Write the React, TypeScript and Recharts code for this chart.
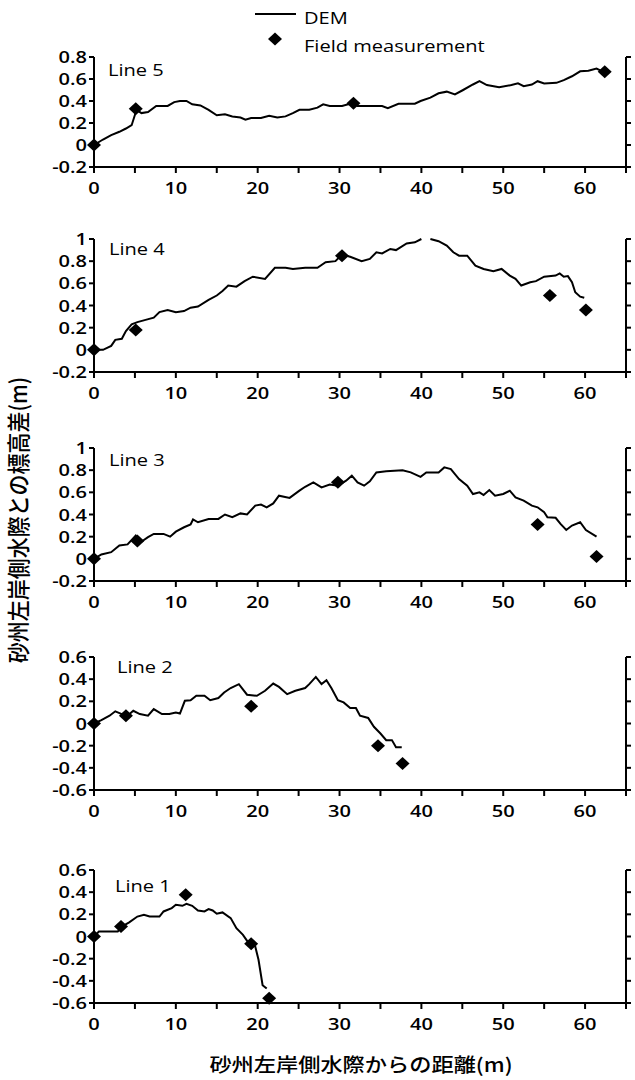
import React from "react"
import { ComposedChart, Line, Scatter, XAxis, YAxis } from "recharts"

// axis ticks
const xTicks = [0, 5, 10, 15, 20, 25, 30, 35, 40, 45, 50, 55, 60, 65]
const yTicksShort = [-0.2, 0, 0.2, 0.4, 0.6, 0.8]
const yTicksTall = [-0.2, 0, 0.2, 0.4, 0.6, 0.8, 1]
const yTicksNeg = [-0.6, -0.4, -0.2, 0, 0.2, 0.4, 0.6]

// Line 5
const dem5Dist = [0, 1.1, 2.1, 3.1, 3.9, 4.6, 5.2, 5.8, 6.6, 7.6, 9.0, 9.8, 10.5, 11.3, 12.0, 13.0, 14.0, 15.0, 16.0, 16.9, 17.9, 18.5, 19.2, 20.4, 21.4, 22.4, 23.4, 24.3, 25.1, 26.3, 27.3, 28.0, 28.8, 30.3, 31.5, 32.2, 35.2, 35.9, 37.2, 39.2, 39.9, 41.1, 42.1, 43.1, 44.1, 45.1, 46.3, 47.1, 48.0, 49.5, 51.0, 51.8, 52.5, 53.5, 54.2, 55.0, 56.5, 57.4, 58.4, 59.4, 60.4, 61.4, 62.1]
const dem5Elev = [0, 0.05, 0.09, 0.12, 0.15, 0.18, 0.32, 0.29, 0.3, 0.355, 0.355, 0.39, 0.4, 0.4, 0.37, 0.36, 0.32, 0.27, 0.28, 0.26, 0.25, 0.23, 0.245, 0.245, 0.265, 0.25, 0.26, 0.29, 0.32, 0.32, 0.34, 0.37, 0.355, 0.355, 0.38, 0.355, 0.355, 0.335, 0.375, 0.375, 0.4, 0.43, 0.47, 0.485, 0.46, 0.5, 0.55, 0.58, 0.545, 0.525, 0.545, 0.56, 0.535, 0.55, 0.58, 0.56, 0.565, 0.59, 0.625, 0.67, 0.675, 0.695, 0.67]
const field5Dist = [0, 5.1, 31.7, 62.4]
const field5Elev = [0, 0.33, 0.38, 0.665]

// Line 4 (profile leaves the plot above 1 m near 40 m)
const dem4Dist = [0, 1.1, 2.1, 2.6, 3.4, 3.9, 4.6, 5.3, 6.3, 7.3, 8.0, 9.0, 10.0, 11.0, 11.8, 12.7, 14.0, 15.0, 15.7, 16.4, 17.4, 18.4, 19.4, 20.9, 22.1, 23.4, 24.3, 25.8, 27.3, 28.3, 29.5, 30.3, 31.3, 32.7, 33.7, 34.5, 35.2, 36.2, 36.9, 38.2, 39.2, 40.0, 40.6, 41.1, 42.1, 43.1, 43.9, 44.6, 45.6, 46.6, 47.6, 48.8, 49.8, 50.8, 51.5, 52.2, 53.3, 54.0, 55.0, 56.4, 56.9, 57.4, 57.9, 58.4, 58.8, 59.4, 59.9]
const dem4Elev = [0, 0, 0.036, 0.09, 0.1, 0.17, 0.23, 0.25, 0.27, 0.29, 0.34, 0.36, 0.34, 0.35, 0.38, 0.39, 0.45, 0.49, 0.53, 0.58, 0.57, 0.62, 0.66, 0.64, 0.74, 0.74, 0.73, 0.74, 0.74, 0.79, 0.8, 0.86, 0.84, 0.8, 0.82, 0.88, 0.87, 0.91, 0.9, 0.96, 0.97, 1.0, null, 1.0, 0.98, 0.94, 0.88, 0.85, 0.85, 0.76, 0.73, 0.71, 0.73, 0.67, 0.64, 0.58, 0.61, 0.62, 0.66, 0.67, 0.69, 0.66, 0.665, 0.61, 0.52, 0.48, 0.47]
const field4Dist = [0, 5.1, 30.3, 55.7, 60.1]
const field4Elev = [0, 0.18, 0.85, 0.49, 0.36]

// Line 3
const dem3Dist = [0, 0.9, 2.1, 3.1, 4.1, 5.1, 5.7, 6.6, 7.3, 8.5, 9.3, 10.0, 11.0, 11.8, 12.1, 12.7, 14.0, 15.2, 16.0, 16.9, 17.9, 18.7, 19.7, 20.4, 21.1, 21.9, 22.6, 23.9, 25.1, 25.8, 26.8, 27.8, 28.8, 29.8, 30.8, 31.5, 32.2, 33.0, 33.7, 34.5, 35.7, 36.7, 37.7, 38.7, 39.9, 40.6, 42.1, 42.8, 43.6, 44.6, 45.6, 46.3, 47.1, 47.6, 48.3, 49.0, 50.0, 50.8, 51.5, 52.5, 53.5, 54.2, 55.0, 55.4, 56.4, 57.0, 57.7, 58.4, 59.4, 60.1, 61.4]
const dem3Elev = [0, 0.04, 0.06, 0.12, 0.13, 0.21, 0.15, 0.195, 0.225, 0.225, 0.2, 0.245, 0.285, 0.31, 0.355, 0.33, 0.36, 0.36, 0.4, 0.375, 0.41, 0.4, 0.48, 0.49, 0.465, 0.5, 0.57, 0.55, 0.615, 0.65, 0.69, 0.645, 0.67, 0.66, 0.705, 0.75, 0.69, 0.66, 0.7, 0.78, 0.79, 0.795, 0.8, 0.78, 0.74, 0.78, 0.78, 0.825, 0.81, 0.72, 0.66, 0.585, 0.6, 0.575, 0.62, 0.57, 0.585, 0.615, 0.555, 0.525, 0.48, 0.465, 0.42, 0.375, 0.37, 0.315, 0.26, 0.3, 0.33, 0.26, 0.2]
const field3Dist = [0, 5.3, 29.8, 54.2, 61.4]
const field3Elev = [0, 0.16, 0.69, 0.31, 0.02]

// Line 2
const dem2Dist = [0, 0.9, 1.9, 2.6, 3.4, 4.1, 4.8, 5.6, 6.6, 7.3, 8.3, 9.2, 10.0, 10.5, 11.1, 11.8, 12.5, 13.5, 14.2, 15.2, 15.9, 16.7, 17.7, 18.7, 19.9, 20.9, 21.9, 22.6, 23.6, 24.6, 25.8, 26.3, 27.1, 27.8, 28.4, 29.0, 29.8, 30.5, 31.3, 32.0, 32.5, 33.5, 34.2, 35.0, 35.7, 36.4, 36.9, 37.6]
const dem2Elev = [0, 0.03, 0.07, 0.11, 0.085, 0.07, 0.115, 0.085, 0.07, 0.13, 0.085, 0.085, 0.1, 0.09, 0.205, 0.21, 0.25, 0.25, 0.21, 0.23, 0.28, 0.32, 0.355, 0.26, 0.25, 0.295, 0.36, 0.33, 0.265, 0.295, 0.32, 0.355, 0.42, 0.355, 0.39, 0.32, 0.21, 0.19, 0.14, 0.14, 0.07, 0.05, -0.03, -0.09, -0.15, -0.15, -0.215, -0.215]
const field2Dist = [0, 3.9, 19.2, 34.7, 37.7]
const field2Elev = [0, 0.07, 0.155, -0.2, -0.36]

// Line 1
const dem1Dist = [0, 0.6, 2.9, 3.4, 4.3, 5.3, 6.1, 6.8, 8.0, 8.5, 9.5, 10.0, 10.8, 11.3, 12.0, 12.7, 13.5, 14.0, 14.5, 15.0, 15.7, 16.7, 17.4, 18.2, 18.9, 19.7, 20.1, 20.6, 21.1]
const dem1Elev = [0, 0.045, 0.045, 0.09, 0.127, 0.18, 0.196, 0.18, 0.18, 0.226, 0.256, 0.286, 0.277, 0.295, 0.277, 0.235, 0.226, 0.247, 0.235, 0.205, 0.217, 0.166, 0.075, 0.015, -0.06, -0.09, -0.21, -0.44, -0.47]
const field1Dist = [0, 3.3, 11.2, 19.2, 21.4]
const field1Elev = [0, 0.09, 0.377, -0.066, -0.557]

const zip = (xs: number[], ys: (number | null)[]) => xs.map((x, i) => ({ x, y: ys[i] }))

const FONT = "'Open Sans', sans-serif"
const JP = "'Noto Sans CJK JP', sans-serif"
const SX = 1.18 // the figure is stretched sideways
const FS = 17
const FW = 600

function XTick(props: any) {
  const { x, y, payload } = props
  const v = payload.value
  if (v % 10 !== 0) return <g />
  return (
    <text transform={`translate(${x},${y + 19}) scale(${SX},1)`} textAnchor="middle" fontFamily={FONT} fontSize={FS} fontWeight={FW} fill="#000">
      {v}
    </text>
  )
}

function YTick(props: any) {
  const { x, y, payload } = props
  const v = Math.round(payload.value * 10) / 10
  return (
    <text transform={`translate(${x},${y + 6}) scale(${SX},1)`} textAnchor="end" fontFamily={FONT} fontSize={FS} fontWeight={FW} fill="#000">
      {String(v)}
    </text>
  )
}

const NoTick = () => <g />

function Diamond(props: any) {
  const { cx, cy } = props
  return <polygon points={`${cx},${cy - 6.5} ${cx + 7},${cy} ${cx},${cy + 6.5} ${cx - 7},${cy}`} fill="#000" />
}

type PanelProps = {
  top: number
  plotH: number
  dem: { x: number; y: number | null }[]
  field: { x: number; y: number | null }[]
  yTicks: number[]
}

function Panel({ top, plotH, dem, field, yTicks }: PanelProps) {
  const mt = 18
  const dom: [number, number] = [yTicks[0], yTicks[yTicks.length - 1]]
  const ax = { stroke: "#000", strokeWidth: 2 }
  return (
    <div style={{ position: "absolute", left: 0, top: top - mt }}>
      <ComposedChart width={635} height={mt + plotH + 40} margin={{ top: mt, right: 0, bottom: 0, left: 0 }}>
        <XAxis type="number" dataKey="x" domain={[0, 65]} ticks={xTicks} interval={0} height={40} tickSize={6} stroke="#000" axisLine={ax} tickLine={ax} tick={<XTick />} />
        <YAxis yAxisId="l" type="number" dataKey="y" domain={dom} ticks={yTicks} interval={0} width={94} tickSize={5} stroke="#000" axisLine={ax} tickLine={ax} tick={<YTick />} />
        <YAxis yAxisId="r" orientation="right" type="number" dataKey="y" domain={dom} ticks={yTicks} interval={0} width={9} tickSize={5} stroke="#000" axisLine={ax} tickLine={ax} tick={<NoTick />} />
        <Line yAxisId="r" data={dem} dataKey="y" type="linear" stroke="#000" strokeWidth={2} dot={false} isAnimationActive={false} />
        <Scatter yAxisId="l" data={field} dataKey="y" shape={Diamond} isAnimationActive={false} />
      </ComposedChart>
    </div>
  )
}

function Txt({ x, y, children, size = FS, anchor = "start", family = FONT, sx = SX, weight = FW }: any) {
  return (
    <text transform={`translate(${x},${y}) scale(${sx},1)`} textAnchor={anchor} fontFamily={family} fontSize={size} fontWeight={weight} fill="#000">
      {children}
    </text>
  )
}

export default function App() {
  return (
    <div style={{ position: "absolute", left: 0, top: 0, width: 635, height: 1080, background: "#fff" }}>
      <Panel top={57} plotH={110} dem={zip(dem5Dist, dem5Elev)} field={zip(field5Dist, field5Elev)} yTicks={yTicksShort} />
      <Panel top={239} plotH={133} dem={zip(dem4Dist, dem4Elev)} field={zip(field4Dist, field4Elev)} yTicks={yTicksTall} />
      <Panel top={448} plotH={133} dem={zip(dem3Dist, dem3Elev)} field={zip(field3Dist, field3Elev)} yTicks={yTicksTall} />
      <Panel top={657} plotH={133} dem={zip(dem2Dist, dem2Elev)} field={zip(field2Dist, field2Elev)} yTicks={yTicksNeg} />
      <Panel top={870} plotH={133} dem={zip(dem1Dist, dem1Elev)} field={zip(field1Dist, field1Elev)} yTicks={yTicksNeg} />
      <svg width={635} height={1080} style={{ position: "absolute", left: 0, top: 0, pointerEvents: "none" }}>
        {/* legend */}
        <line x1={255} x2={296} y1={14} y2={14} stroke="#000" strokeWidth={2} />
        <Txt x={304} y={24} weight={400}>DEM</Txt>
        <Diamond cx={275} cy={39} />
        <Txt x={304} y={52} weight={400}>Field measurement</Txt>
        {/* panel names */}
        <Txt x={108} y={76} weight={400}>Line 5</Txt>
        <Txt x={109} y={255} weight={400}>Line 4</Txt>
        <Txt x={109} y={466} weight={400}>Line 3</Txt>
        <Txt x={117} y={673} weight={400}>Line 2</Txt>
        <Txt x={115} y={892} weight={400}>Line 1</Txt>
        {/* axis titles */}
        <Txt x={361} y={1072} size={19} anchor="middle" family={JP} sx={1.17} weight={500}>砂州左岸側水際からの距離(m)</Txt>
        <text transform="translate(27,520) scale(1.1,1) rotate(-90)" textAnchor="middle" fontFamily={JP} fontSize={21} fontWeight={500} fill="#000">
          砂州左岸側水際との標高差(m)
        </text>
      </svg>
    </div>
  )
}
